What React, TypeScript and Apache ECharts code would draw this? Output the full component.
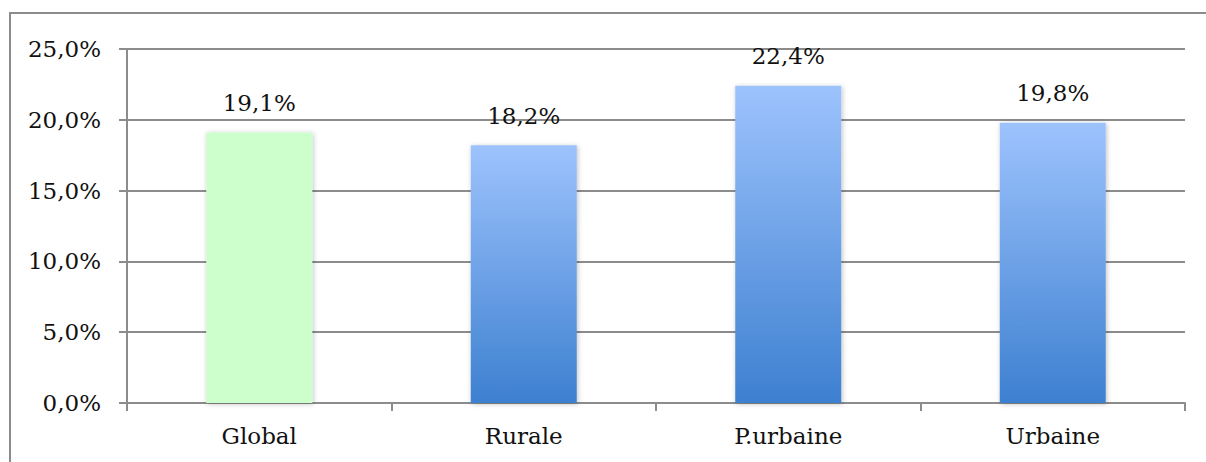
import React, { useEffect, useRef } from "react";
import * as echarts from "echarts";

const categories = ["Global", "Rurale", "P.urbaine", "Urbaine"];
const values = [19.1, 18.2, 22.4, 19.8];
const yTicks = [0, 5, 10, 15, 20, 25];

const fmt = (v: number) => v.toFixed(1).replace(".", ",") + "%";
const FONT = "DejaVu Serif";
const FS = 23;

export default function App() {
  const ref = useRef<HTMLDivElement>(null);
  useEffect(() => {
    if (!ref.current) return;
    const chart = echarts.init(ref.current, null, { renderer: "svg" });
    const blue = new echarts.graphic.LinearGradient(0, 0, 0, 1, [
      { offset: 0, color: "#9dc3fd" },
      { offset: 1, color: "#3d80d0" },
    ]);
    chart.setOption({
      animation: false,
      backgroundColor: "#ffffff",
      graphic: [
        {
          type: "rect",
          shape: { x: 10, y: 13, width: 1400, height: 600 },
          style: { fill: "none", stroke: "#8c8c8c", lineWidth: 2 },
          silent: true,
        },
      ],
      grid: { left: 127, right: 21, top: 49, bottom: 59 },
      xAxis: {
        type: "category",
        data: categories,
        axisLine: { lineStyle: { color: "#8c8c8c", width: 2 } },
        axisTick: { show: true, length: 8, lineStyle: { color: "#8c8c8c", width: 2 } },
        axisLabel: { color: "#111", fontFamily: FONT, fontSize: FS, margin: 21 },
      },
      yAxis: {
        type: "value",
        min: yTicks[0],
        max: yTicks[yTicks.length - 1],
        interval: 5,
        axisLine: { show: true, lineStyle: { color: "#8c8c8c", width: 2 } },
        axisTick: { show: true, length: 8, lineStyle: { color: "#8c8c8c", width: 2 } },
        splitLine: { show: true, lineStyle: { color: "#8c8c8c", width: 2 } },
        axisLabel: {
          color: "#111",
          fontFamily: FONT,
          fontSize: FS,
          margin: 26,
          formatter: (v: number) => fmt(v),
        },
      },
      series: [
        {
          type: "bar",
          barWidth: 106,
          data: values.map((v, i) => ({
            value: v,
            itemStyle: {
              color: i === 0 ? "#ccffcc" : blue,
              shadowBlur: 5,
              shadowColor: "rgba(0,0,0,0.25)",
              shadowOffsetX: 1,
              shadowOffsetY: 1,
            },
          })),
          label: {
            show: true,
            position: "top",
            distance: 18,
            color: "#111",
            fontFamily: FONT,
            fontSize: FS,
            formatter: (p: any) => fmt(p.value),
          },
        },
      ],
    });
    return () => chart.dispose();
  }, []);
  return (
    <div
      ref={ref}
      style={{ position: "fixed", left: 0, top: 0, width: 1206, height: 462 }}
    />
  );
}
